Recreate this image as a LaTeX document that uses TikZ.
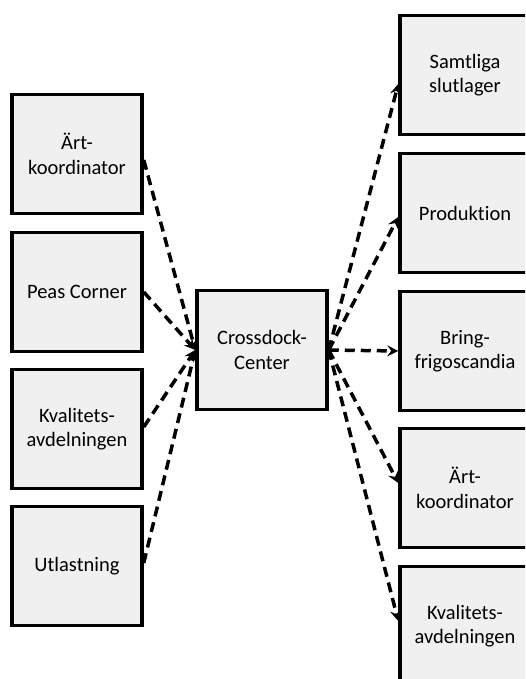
\documentclass[tikz,border=0pt]{standalone}
\usepackage{fontspec}
\setmainfont[Ligatures=NoCommon]{Carlito}
\usetikzlibrary{arrows.meta}
\begin{document}
\begin{tikzpicture}[x=1pt,y=-1pt,
  unit/.style={draw=black, line width=3.5pt, fill=gray!12, minimum width=130pt,
    minimum height=119pt, align=center, inner sep=2pt,
    font=\fontsize{20.5}{24.5}\selectfont},
  flow/.style={line width=3.5pt, dash pattern=on 10pt off 6pt,
    -{Stealth[length=11pt,width=11pt,inset=4pt]}}]
  \useasboundingbox (0,0) rectangle (525,679);
  \clip (0,0) rectangle (525,679);

  % sources on the left
  \node[unit] (a1) at (77,154) {Ärt-\\koordinator};
  \node[unit] (a2) at (77,292) {Peas Corner};
  \node[unit] (a3) at (77,429) {Kvalitets-\\avdelningen};
  \node[unit] (a4) at (77,566) {Utlastning};

  % hub
  \node[unit] (hub) at (262,350) {Crossdock-\\Center};

  % destinations on the right
  \node[unit] (b1) at (465,75) {Samtliga\\slutlager};
  \node[unit] (b2) at (465,213) {Produktion};
  \node[unit] (b3) at (465,351) {Bring-\\frigoscandia};
  \node[unit] (b4) at (465,488) {Ärt-\\koordinator};
  \node[unit] (b5) at (465,626) {Kvalitets-\\avdelningen};

  % incoming flows
  \draw[flow] ([yshift=-6pt]a1.east) -- (hub.west);
  \draw[flow] (a2.east) -- (hub.west);
  \draw[flow] ([yshift=2pt]a3.east) -- (hub.west);
  \draw[flow] ([yshift=3pt]a4.east) -- (hub.west);

  % outgoing flows
  \draw[flow] (hub.east) -- ([yshift=-9pt]b1.west);
  \draw[flow] (hub.east) -- ([yshift=-4pt]b2.west);
  \draw[flow] (hub.east) -- (b3.west);
  \draw[flow] (hub.east) -- ([yshift=5pt]b4.west);
  \draw[flow] (hub.east) -- ([yshift=5pt]b5.west);
\end{tikzpicture}
\end{document}
